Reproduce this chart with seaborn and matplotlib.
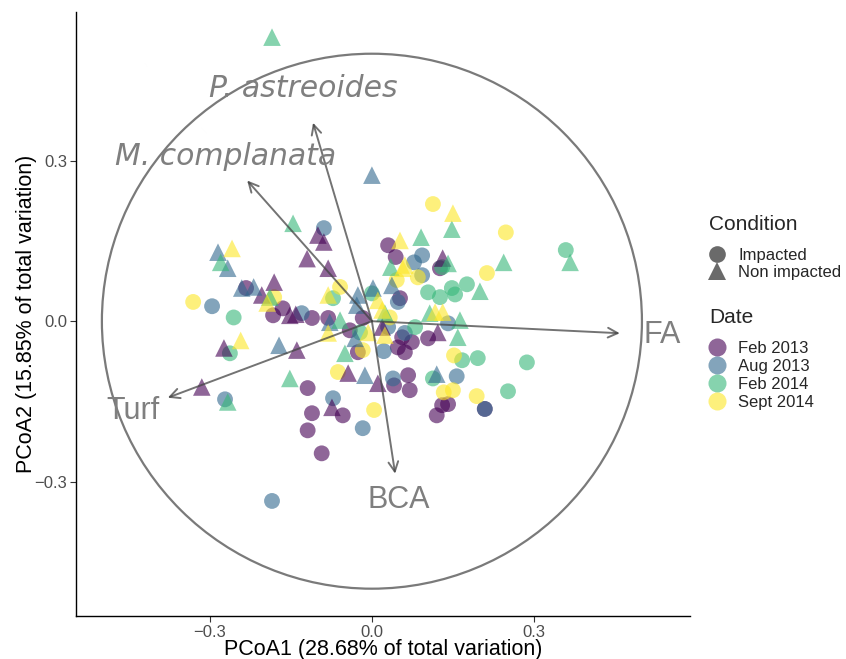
import numpy as np
import pandas as pd
import matplotlib
matplotlib.use('Agg')
import matplotlib.pyplot as plt
from matplotlib.lines import Line2D
from matplotlib.patches import Circle
import seaborn as sns

# PCoA scores, one small list per group
feb13_imp_x = [0.030, 0.044, 0.126, -0.233, -0.165, -0.183, -0.111, -0.081, -0.041, -0.017, 0.052, 0.104,
               0.074, 0.048, 0.061, 0.056, -0.026, 0.067, 0.041, 0.070, 0.130, 0.120, 0.141, -0.119,
               -0.111, -0.119, -0.054, -0.093, 0.209]
feb13_imp_y = [0.142, 0.120, 0.099, 0.062, 0.024, 0.011, 0.006, 0.006, -0.017, 0.006, 0.043, -0.032,
               -0.039, -0.049, -0.058, -0.030, -0.058, -0.101, -0.120, -0.129, -0.157, -0.176, -0.155, -0.125,
               -0.172, -0.204, -0.176, -0.247, -0.164]
feb13_non_x = [-0.100, -0.089, -0.120, -0.081, 0.131, -0.181, -0.204, -0.152, -0.141, -0.274, -0.139, -0.315,
               0.019, 0.122, -0.044, 0.011, -0.074]
feb13_non_y = [0.161, 0.148, 0.117, 0.099, 0.118, 0.073, 0.049, 0.011, 0.013, -0.050, -0.054, -0.123,
               -0.011, -0.021, -0.097, -0.116, -0.161]

aug13_imp_x = [-0.089, 0.093, 0.078, 0.093, -0.296, -0.130, 0.048, 0.030, 0.061, 0.022, 0.039, -0.272,
               -0.072, -0.017, -0.185, 0.157, 0.209, 0.141]
aug13_imp_y = [0.174, 0.123, 0.110, 0.086, 0.028, 0.015, 0.036, -0.011, -0.022, -0.056, -0.107, -0.146,
               -0.144, -0.200, -0.336, -0.103, -0.164, -0.004]
aug13_non_x = [0.000, -0.285, -0.267, -0.241, -0.219, -0.172, -0.026, 0.002, 0.037, -0.028, -0.078, -0.031,
               -0.013, 0.120]
aug13_non_y = [0.273, 0.129, 0.099, 0.062, 0.064, -0.045, 0.049, 0.062, 0.067, 0.030, -0.002, -0.032,
               -0.101, -0.099]

feb14_imp_x = [0.359, 0.130, -0.256, -0.263, -0.072, 0.000, 0.104, 0.126, 0.148, 0.176, 0.154, 0.080,
               -0.022, 0.167, 0.196, 0.287, 0.113, 0.252]
feb14_imp_y = [0.133, 0.101, 0.007, -0.060, 0.043, 0.052, 0.054, 0.045, 0.062, 0.069, 0.050, -0.011,
               -0.021, -0.073, -0.069, -0.077, -0.107, -0.131]
feb14_non_x = [-0.185, -0.146, -0.280, 0.091, 0.148, 0.141, 0.244, 0.367, 0.035, -0.189, -0.267, -0.152,
               -0.059, 0.024, 0.107, 0.200, 0.163, 0.159, -0.050]
feb14_non_y = [0.531, 0.183, 0.110, 0.157, 0.172, 0.108, 0.110, 0.110, 0.101, 0.045, -0.151, -0.107,
               0.002, 0.015, 0.015, 0.056, 0.002, -0.030, -0.060]

sep14_imp_x = [0.113, 0.248, 0.213, -0.331, -0.181, -0.059, 0.046, 0.085, 0.033, -0.017, -0.063, 0.004,
               0.133, 0.152, 0.150, 0.194]
sep14_imp_y = [0.219, 0.166, 0.090, 0.036, 0.045, 0.064, 0.077, 0.082, 0.007, -0.054, -0.095, -0.166,
               -0.133, -0.064, -0.129, -0.140]
sep14_non_x = [-0.259, 0.052, 0.150, 0.061, -0.194, -0.243, -0.081, 0.011, 0.019, -0.081, -0.007, 0.024,
               0.117, 0.131, 0.057]
sep14_non_y = [0.136, 0.151, 0.202, 0.105, 0.034, -0.036, 0.049, 0.039, 0.021, -0.022, -0.021, -0.026,
               0.017, 0.017, 0.099]

# fitted vectors
vec_names = ['FA', 'Turf', 'BCA', 'P. astreoides', 'M. complanata']
vec_x = [0.459, -0.378, 0.043, -0.109, -0.231]
vec_y = [-0.0225, -0.143, -0.285, 0.371, 0.263]
vec_italic = [False, False, False, True, True]

dates = ['Feb 2013', 'Aug 2013', 'Feb 2014', 'Sept 2014']
conditions = ['Impacted', 'Non impacted']
colors = ['#440154', '#31688E', '#35B779', '#FDE725']

groups = [
    ('Feb 2013', 'Impacted', feb13_imp_x, feb13_imp_y),
    ('Feb 2013', 'Non impacted', feb13_non_x, feb13_non_y),
    ('Aug 2013', 'Impacted', aug13_imp_x, aug13_imp_y),
    ('Aug 2013', 'Non impacted', aug13_non_x, aug13_non_y),
    ('Feb 2014', 'Impacted', feb14_imp_x, feb14_imp_y),
    ('Feb 2014', 'Non impacted', feb14_non_x, feb14_non_y),
    ('Sept 2014', 'Impacted', sep14_imp_x, sep14_imp_y),
    ('Sept 2014', 'Non impacted', sep14_non_x, sep14_non_y),
]
frames = []
for d, c, xs, ys in groups:
    frames.append(pd.DataFrame({'PCoA1': xs, 'PCoA2': ys, 'Date': d, 'Condition': c}))
df = pd.concat(frames, ignore_index=True)
df['Date'] = pd.Categorical(df['Date'], categories=dates, ordered=True)

sns.set_style('white')
plt.rcParams['font.family'] = ['Liberation Sans', 'DejaVu Sans']

fig = plt.figure(figsize=(8.46, 6.59), dpi=100)
ax = fig.add_axes([0.0898, 0.0653, 0.7258, 0.9165])

pal = dict(zip(dates, colors))
sns.scatterplot(data=df[df['Condition'] == 'Impacted'], x='PCoA1', y='PCoA2', hue='Date',
                palette=pal, marker='o', s=130, alpha=0.6, linewidth=0, legend=False, ax=ax)
sns.scatterplot(data=df[df['Condition'] == 'Non impacted'], x='PCoA1', y='PCoA2', hue='Date',
                palette=pal, marker='^', s=160, alpha=0.6, linewidth=0, legend=False, ax=ax)

# correlation circle
ax.add_patch(Circle((0, 0), 0.5, fill=False, edgecolor='#7a7a7a', linewidth=1.6, zorder=3))

# vectors and labels
for name, vx, vy, it in zip(vec_names, vec_x, vec_y, vec_italic):
    ax.annotate('', xy=(vx, vy), xytext=(0, 0),
                arrowprops=dict(arrowstyle='->,head_length=0.7,head_width=0.35', color='#444444',
                                alpha=0.75, lw=1.4, shrinkA=0, shrinkB=0), zorder=4)
    if it:
        ax.text(vx * 1.17, vy * 1.17, name, ha='center', va='center', fontsize=21.5,
                style='italic', color='#7f7f7f', family='DejaVu Sans', zorder=5)
    else:
        ax.text(vx * 1.17, vy * 1.17, name, ha='center', va='center', fontsize=22,
                color='#7f7f7f', zorder=5)

ax.set_xlim(-0.548, 0.589)
ax.set_ylim(-0.551, 0.578)
ax.set_xticks([-0.3, 0.0, 0.3])
ax.set_yticks([-0.3, 0.0, 0.3])
ax.set_xticklabels(['\u22120.3', '0.0', '0.3'])
ax.set_yticklabels(['\u22120.3', '0.0', '0.3'])
ax.tick_params(axis='both', labelsize=12, labelcolor='#4d4d4d', color='#333333',
               length=4, width=0.8, direction='out', bottom=True, left=True, pad=2.5)
sns.despine(ax=ax)
for s in ['left', 'bottom']:
    ax.spines[s].set_color('black')
    ax.spines[s].set_linewidth(1.0)
ax.set_xlabel('PCoA1 (28.68% of total variation)', fontsize=15.5, color='black', labelpad=-1)
ax.set_ylabel('PCoA2 (15.85% of total variation)', fontsize=15.5, color='black', labelpad=-2)

# legends
fig.text(0.838, 0.6586, 'Condition', fontsize=15, ha='left', va='center')
fig.text(0.838, 0.5175, 'Date', fontsize=15, ha='left', va='center')
cond_handles = [Line2D([], [], marker='o', linestyle='', color='#5a5a5a', alpha=0.9, markersize=12, markeredgewidth=0),
                Line2D([], [], marker='^', linestyle='', color='#5a5a5a', alpha=0.9, markersize=13, markeredgewidth=0)]
fig.legend(cond_handles, conditions, loc='center left',
           bbox_to_anchor=(0.8277, 0.5994), frameon=False, fontsize=12,
           handletextpad=0.68, labelspacing=0.16, handlelength=1.2, borderaxespad=0)
date_handles = [Line2D([], [], marker='o', linestyle='', color=c, alpha=0.6, markersize=13, markeredgewidth=0)
                for c in colors]
fig.legend(date_handles, dates, loc='center left',
           bbox_to_anchor=(0.8277, 0.4302), frameon=False, fontsize=12,
           handletextpad=0.68, labelspacing=0.18, handlelength=1.2, borderaxespad=0)

fig.savefig('out.png', dpi=100)
